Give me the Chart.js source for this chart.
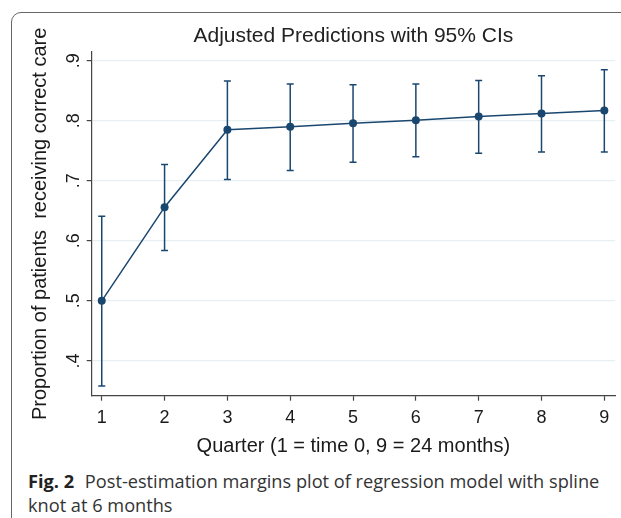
<!DOCTYPE html>
<html lang="en">
<head>
<meta charset="UTF-8">
<title>Adjusted Predictions with 95% CIs</title>
<script src="https://cdn.jsdelivr.net/npm/chart.js"></script>
<style>
  html, body { margin: 0; padding: 0; background: #fff; overflow: hidden; }
  body { width: 621px; height: 518px; position: relative; }
  #frame {
    position: absolute; left: 11px; top: 12px; width: 660px; height: 560px;
    border: 1.5px solid #666; border-radius: 10px; box-sizing: border-box;
  }
  #chart { position: absolute; left: 0; top: 0; }
  #caption {
    position: absolute; left: 28px; top: 469px; width: 590px;
    font-family: "Open Sans", sans-serif; font-size: 18.2px; line-height: 24px; color: #333;
  }
  #caption b { color: #222; margin-right: 6px; }
</style>
</head>
<body>
<div id="frame"></div>
<canvas id="chart" width="621" height="460"></canvas>
<div id="caption"><b>Fig. 2</b> Post-estimation margins plot of regression model with spline knot at 6 months</div>

<script>
// values
const quarters = [1, 2, 3, 4, 5, 6, 7, 8, 9];
const predicted = [0.500, 0.656, 0.785, 0.790, 0.796, 0.801, 0.807, 0.812, 0.817];
const ciLower = [0.358, 0.584, 0.702, 0.717, 0.731, 0.740, 0.746, 0.748, 0.748];
const ciUpper = [0.641, 0.727, 0.866, 0.861, 0.860, 0.861, 0.867, 0.875, 0.885];

const xTicks = [1, 2, 3, 4, 5, 6, 7, 8, 9];
const yTicks = [0.4, 0.5, 0.6, 0.7, 0.8, 0.9];
const yTickLabels = ['.4', '.5', '.6', '.7', '.8', '.9'];

const navy = '#1a476f';
const font = 'Liberation Sans, Arial, Helvetica, sans-serif';

// one segment per quarter, separated by gaps
const ciPoints = [];
quarters.forEach((q, i) => {
    ciPoints.push({x: q, y: ciLower[i]});
    ciPoints.push({x: q, y: ciUpper[i]});
    ciPoints.push({x: q, y: null});
});

new Chart(document.getElementById('chart'), {
    type: 'line',
    data: {
        datasets: [
            {
                label: '95% CI',
                data: ciPoints,
                borderColor: navy,
                borderWidth: 1.5,
                pointStyle: 'line',
                pointRadius: 3.5,
                pointBorderWidth: 1.5,
                pointBorderColor: navy,
                spanGaps: false
            },
            {
                label: 'Prediction',
                data: quarters.map((q, i) => ({x: q, y: predicted[i]})),
                borderColor: navy,
                backgroundColor: navy,
                borderWidth: 1.5,
                pointRadius: 4,
                pointBackgroundColor: navy,
                pointBorderWidth: 0
            }
        ]
    },
    options: {
        responsive: false,
        animation: false,
        layout: { padding: { left: 0, right: 6, top: 0, bottom: 0 } },
        plugins: {
            legend: { display: false },
            tooltip: { enabled: false },
            title: {
                display: true,
                fullSize: false,
                text: 'Adjusted Predictions with 95% CIs',
                color: '#222',
                font: { family: font, size: 21, weight: 'normal' },
                padding: { top: 24.1, bottom: 2.7 }
            }
        },
        scales: {
            x: {
                type: 'linear',
                min: 0.84,
                max: 9.17,
                afterBuildTicks: axis => { axis.ticks = xTicks.map(v => ({value: v})); },
                afterFit: axis => { axis.height = 460 - 395.7; },
                border: { color: '#444', width: 1.2 },
                grid: { drawOnChartArea: false, drawTicks: true, tickLength: 5, tickColor: '#444', tickWidth: 1.2 },
                ticks: { color: '#1a1a1a', font: { family: font, size: 18 }, padding: 6.5, maxRotation: 0 },
                title: {
                    display: true,
                    text: 'Quarter (1 = time 0, 9 = 24 months)',
                    color: '#1a1a1a',
                    font: { family: font, size: 20 },
                    padding: { top: 0, bottom: 1.3 }
                }
            },
            y: {
                type: 'linear',
                min: 0.342,
                max: 0.9145,
                afterBuildTicks: axis => { axis.ticks = yTicks.map(v => ({value: v})); },
                afterFit: axis => { axis.width = 91.7; },
                border: { color: '#444', width: 1.2 },
                grid: { color: '#e6eff1', lineWidth: 1.2, drawTicks: true, tickLength: 5, tickColor: '#444', tickWidth: 1.2 },
                ticks: {
                    color: '#1a1a1a',
                    font: { family: font, size: 18 },
                    padding: 5,
                    minRotation: 90,
                    maxRotation: 90,
                    crossAlign: 'center',
                    callback: (v, i) => yTickLabels[i]
                },
                title: {
                    display: true,
                    text: 'Proportion of patients  receiving correct care',
                    color: '#1a1a1a',
                    font: { family: font, size: 20 },
                    padding: { top: 28, bottom: 0 }
                }
            }
        }
    }
});
</script>
</body>
</html>
